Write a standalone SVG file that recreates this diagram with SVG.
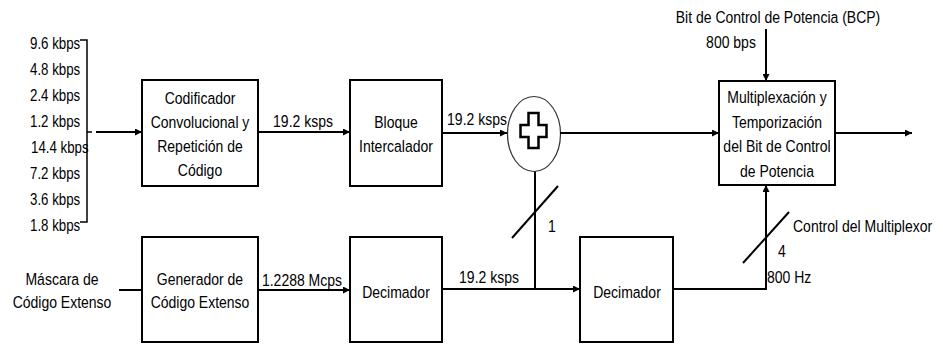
<svg xmlns="http://www.w3.org/2000/svg" width="943" height="345" viewBox="0 0 943 345">
<style>
.box{fill:#fff;stroke:#000;stroke-width:2}
.ln{fill:none;stroke:#000;stroke-width:2}
.thin{fill:none;stroke:#000;stroke-width:1.5}
text{font-family:"Liberation Sans",Arial,sans-serif;font-size:14px;fill:#000}
.m{text-anchor:middle}
</style>
<defs>
<marker id="ah" viewBox="0 0 10 10" refX="10" refY="5" markerWidth="8" markerHeight="7" markerUnits="userSpaceOnUse" orient="auto">
<path d="M0,0 L10,5 L0,10 z" fill="#000"/>
</marker>
</defs>
<rect width="943" height="345" fill="#fff"/>

<g id="rates">
<text transform="translate(30,49) scale(0.95,1.18)">9.6 kbps</text>
<text transform="translate(30,75) scale(0.95,1.18)">4.8 kbps</text>
<text transform="translate(30,101) scale(0.95,1.18)">2.4 kbps</text>
<text transform="translate(30,127) scale(0.95,1.18)">1.2 kbps</text>
<text transform="translate(31,153) scale(0.95,1.18)">14.4 kbps</text>
<text transform="translate(30,179) scale(0.95,1.18)">7.2 kbps</text>
<text transform="translate(30,205) scale(0.95,1.18)">3.6 kbps</text>
<text transform="translate(30,231) scale(0.95,1.18)">1.8 kbps</text>
<path class="thin" d="M80,40 H87 V222 H80 M87,132 H92"/>
</g>

<g id="codificador">
<rect class="box" x="142" y="80" width="116" height="106"/>
<text class="m" transform="translate(200,104) scale(1,1.18)">Codificador</text>
<text class="m" transform="translate(200,128) scale(1,1.18)">Convolucional y</text>
<text class="m" transform="translate(200,152) scale(1,1.18)">Repetición de</text>
<text class="m" transform="translate(200,176) scale(1,1.18)">Código</text>
</g>

<g id="intercalador">
<rect class="box" x="350" y="80" width="92" height="106"/>
<text class="m" transform="translate(396,128) scale(1,1.18)">Bloque</text>
<text class="m" transform="translate(396,152) scale(1,1.18)">Intercalador</text>
</g>

<g id="sumador">
<ellipse cx="534" cy="134" rx="26.5" ry="37.5" fill="#fff" stroke="#333" stroke-width="1.2"/>
<path d="M528.5,113 H538.5 V125 H546.5 V137 H538.5 V148 H528.5 V137 H520.5 V125 H528.5 Z" fill="#fff" stroke="#000" stroke-width="2.5" stroke-linejoin="miter"/>
</g>

<g id="multiplexacion">
<rect class="box" x="719" y="81" width="116" height="104"/>
<text class="m" transform="translate(777,103) scale(1,1.18)">Multiplexación y</text>
<text class="m" transform="translate(777,128) scale(1,1.18)">Temporización</text>
<text class="m" transform="translate(777,152) scale(1,1.18)">del Bit de Control</text>
<text class="m" transform="translate(777,177) scale(1,1.18)">de Potencia</text>
</g>

<g id="bcp">
<text class="m" transform="translate(778,23) scale(1,1.18)">Bit de Control de Potencia (BCP)</text>
<text class="m" transform="translate(731,48) scale(1,1.18)">800 bps</text>
</g>

<g id="mascara">
<text class="m" transform="translate(62,285) scale(1,1.18)">Máscara de</text>
<text class="m" transform="translate(62,308) scale(1,1.18)">Código Extenso</text>
</g>

<g id="generador">
<rect class="box" x="142" y="237" width="116" height="105"/>
<text class="m" transform="translate(200,285) scale(1,1.18)">Generador de</text>
<text class="m" transform="translate(200,308) scale(1,1.18)">Código Extenso</text>
</g>

<g id="decimador1">
<rect class="box" x="350" y="237" width="92" height="105"/>
<text class="m" transform="translate(396,298) scale(1,1.18)">Decimador</text>
</g>

<g id="decimador2">
<rect class="box" x="580" y="237" width="93" height="105"/>
<text class="m" transform="translate(627,298) scale(1,1.18)">Decimador</text>
</g>

<g id="connectors">
<path class="ln" d="M96,132 H142" marker-end="url(#ah)"/>
<path class="ln" d="M258,132 H350" marker-end="url(#ah)"/>
<path class="ln" d="M442,133 H507" marker-end="url(#ah)"/>
<path class="ln" d="M560,133 H719" marker-end="url(#ah)"/>
<path class="ln" d="M835,133 H912" marker-end="url(#ah)"/>
<path class="ln" d="M766,29 V81" marker-end="url(#ah)"/>
<path class="ln" d="M119,290 H142"/>
<path class="ln" d="M258,290 H350" marker-end="url(#ah)"/>
<path class="ln" d="M442,289 H580" marker-end="url(#ah)"/>
<path class="ln" d="M535,171.5 V289"/>
<path class="ln" d="M673,289 H766 V185" marker-end="url(#ah)"/>
<path class="ln" d="M512,238 L558,186"/>
<path class="ln" d="M743,263 L789,212"/>
<text class="m" transform="translate(303,127) scale(1,1.18)">19.2 ksps</text>
<text class="m" transform="translate(477,125) scale(1,1.18)">19.2 ksps</text>
<text class="m" transform="translate(302,286) scale(1,1.18)">1.2288 Mcps</text>
<text class="m" transform="translate(489,283) scale(1,1.18)">19.2 ksps</text>
<text transform="translate(548,232) scale(1,1.18)">1</text>
<text transform="translate(778,257) scale(1,1.18)">4</text>
<text transform="translate(767,283) scale(1,1.18)">800 Hz</text>
<text transform="translate(793,232) scale(1,1.18)">Control del Multiplexor</text>
</g>
</svg>
